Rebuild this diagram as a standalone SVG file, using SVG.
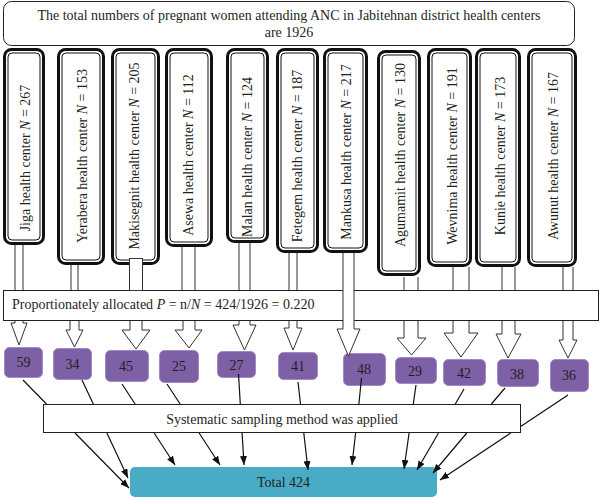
<svg xmlns="http://www.w3.org/2000/svg" width="600" height="498" viewBox="0 0 600 498">
<defs>
<style>
text{font-family:"Liberation Serif","Times New Roman",serif;font-size:14px;fill:#231f20}
.box{fill:#fff;stroke:#231f20;stroke-width:1}
.outer{fill:#fff;stroke:#111;stroke-width:3}
.inner{fill:none;stroke:#111;stroke-width:1}
.vt{text-anchor:middle}
.num{fill:#7e60a6;stroke:#a08bc6;stroke-width:1}
.stem{fill:none;stroke:#333;stroke-width:1}
.head{fill:#fff;stroke:#333;stroke-width:1}
.ln{fill:none;stroke:#111;stroke-width:1.2;marker-end:url(#ah)}
</style>
<marker id="ah" markerUnits="userSpaceOnUse" markerWidth="9" markerHeight="7" refX="9" refY="3.5" orient="auto">
<path d="M0,0 L9,3.5 L0,7 z" fill="#111"/>
</marker>
</defs>
<rect width="600" height="498" fill="#fff"/>

<g id="title">
<rect class="box" x="3.5" y="1.5" width="571" height="44" rx="8"/>
<text x="289" y="20" text-anchor="middle">The total numbers of pregnant women attending ANC in Jabitehnan district health centers</text>
<text x="289" y="37" text-anchor="middle">are 1926</text>
</g>

<g id="hc-jiga">
<rect class="outer" x="4.5" y="49.5" width="39" height="194" rx="7"/>
<rect class="inner" x="8" y="53" width="32" height="187" rx="4"/>
<text class="vt" transform="translate(25,158) rotate(-90)" dy="0.35em">Jiga health center <tspan font-style="italic">N</tspan> = 267</text>
</g>
<g id="hc-yerabera">
<rect class="outer" x="58.5" y="49.5" width="45" height="214" rx="7"/>
<rect class="inner" x="62" y="53" width="38" height="207" rx="4"/>
<text class="vt" transform="translate(82,156) rotate(-90)" dy="0.35em">Yerabera health center <tspan font-style="italic">N</tspan> = 153</text>
</g>
<g id="hc-makisegnit">
<rect class="outer" x="112.5" y="49.5" width="46" height="214" rx="7"/>
<rect class="inner" x="116" y="53" width="39" height="207" rx="4"/>
<text class="vt" transform="translate(134,156) rotate(-90)" dy="0.35em">Makisegnit health center <tspan font-style="italic">N</tspan> = 205</text>
</g>
<g id="hc-asewa">
<rect class="outer" x="166.5" y="49.5" width="45" height="196" rx="7"/>
<rect class="inner" x="170" y="53" width="38" height="189" rx="4"/>
<text class="vt" transform="translate(188,155) rotate(-90)" dy="0.35em">Asewa health center <tspan font-style="italic">N</tspan> = 112</text>
</g>
<g id="hc-malan">
<rect class="outer" x="227.5" y="49.5" width="40" height="192" rx="7"/>
<rect class="inner" x="231" y="53" width="33" height="185" rx="4"/>
<text class="vt" transform="translate(247,157) rotate(-90)" dy="0.35em">Malan health center <tspan font-style="italic">N</tspan> = 124</text>
</g>
<g id="hc-fetegem">
<rect class="outer" x="277.5" y="49.5" width="40" height="202" rx="7"/>
<rect class="inner" x="281" y="53" width="33" height="195" rx="4"/>
<text class="vt" transform="translate(297,156) rotate(-90)" dy="0.35em">Fetegem health center <tspan font-style="italic">N</tspan> = 187</text>
</g>
<g id="hc-mankusa">
<rect class="outer" x="324.5" y="49.5" width="42" height="202" rx="7"/>
<rect class="inner" x="328" y="53" width="35" height="195" rx="4"/>
<text class="vt" transform="translate(346,152) rotate(-90)" dy="0.35em">Mankusa health center <tspan font-style="italic">N</tspan> = 217</text>
</g>
<g id="hc-agumamit">
<rect class="outer" x="378.5" y="51.5" width="41" height="223" rx="7"/>
<rect class="inner" x="382" y="55" width="34" height="216" rx="4"/>
<text class="vt" transform="translate(400,155) rotate(-90)" dy="0.35em">Agumamit health center <tspan font-style="italic">N</tspan> = 130</text>
</g>
<g id="hc-wevnima">
<rect class="outer" x="428.5" y="49.5" width="42" height="216" rx="7"/>
<rect class="inner" x="432" y="53" width="35" height="209" rx="4"/>
<text class="vt" transform="translate(452,156) rotate(-90)" dy="0.35em">Wevnima health center <tspan font-style="italic">N</tspan> = 191</text>
</g>
<g id="hc-kunie">
<rect class="outer" x="476.5" y="49.5" width="43" height="216" rx="7"/>
<rect class="inner" x="480" y="53" width="36" height="209" rx="4"/>
<text class="vt" transform="translate(500,156) rotate(-90)" dy="0.35em">Kunie health center <tspan font-style="italic">N</tspan> = 173</text>
</g>
<g id="hc-awunut">
<rect class="outer" x="528.5" y="49.5" width="47" height="216" rx="7"/>
<rect class="inner" x="532" y="53" width="40" height="209" rx="4"/>
<text class="vt" transform="translate(553,156) rotate(-90)" dy="0.35em">Awunut health center <tspan font-style="italic">N</tspan> = 167</text>
</g>

<g id="allocation">
<rect class="box" x="3.5" y="290.5" width="595" height="30"/>
<text x="12" y="308.5">Proportionately allocated <tspan font-style="italic">P</tspan> = n/<tspan font-style="italic">N</tspan> = 424/1926 = 0.220</text>
</g>

<g id="n59"><rect class="num" x="4.5" y="347.5" width="38" height="30" rx="5"/><text x="23.5" y="367" text-anchor="middle">59</text></g>
<g id="n34"><rect class="num" x="53.5" y="348.5" width="38" height="31" rx="5"/><text x="72.5" y="369" text-anchor="middle">34</text></g>
<g id="n45"><rect class="num" x="105.5" y="350.5" width="43" height="31" rx="5"/><text x="126" y="371" text-anchor="middle">45</text></g>
<g id="n25"><rect class="num" x="159.5" y="350.5" width="39" height="32" rx="5"/><text x="179" y="371" text-anchor="middle">25</text></g>
<g id="n27"><rect class="num" x="217.5" y="351.5" width="38" height="26" rx="5"/><text x="236.5" y="370" text-anchor="middle">27</text></g>
<g id="n41"><rect class="num" x="278.5" y="352.5" width="39" height="27" rx="5"/><text x="298" y="371" text-anchor="middle">41</text></g>
<g id="n48"><rect class="num" x="343.5" y="353.5" width="42" height="32" rx="5"/><text x="364" y="373.5" text-anchor="middle">48</text></g>
<g id="n29"><rect class="num" x="395.5" y="357.5" width="41" height="26" rx="5"/><text x="415" y="376" text-anchor="middle">29</text></g>
<g id="n42"><rect class="num" x="443.5" y="359.5" width="42" height="26" rx="5"/><text x="464" y="378" text-anchor="middle">42</text></g>
<g id="n38"><rect class="num" x="497.5" y="359.5" width="41" height="27" rx="5"/><text x="517" y="379" text-anchor="middle">38</text></g>
<g id="n36"><rect class="num" x="550.5" y="359.5" width="38" height="32" rx="5"/><text x="569" y="380" text-anchor="middle">36</text></g>

<g id="systematic">
<rect class="box" x="43.5" y="404.5" width="477" height="28"/>
<text x="282" y="423.5" text-anchor="middle">Systematic sampling method was applied</text>
</g>

<g id="total">
<rect x="130" y="467" width="307" height="30" rx="5" fill="#4aabc6"/>
<text x="283.5" y="487" text-anchor="middle">Total 424</text>
</g>

<g id="connectors">
<path class="stem" d="M15,245 V290 M23,245 V290"/>
<path class="head" d="M15,321 V323 H11 L19,345 L27,323 H23 V321"/>
<path class="stem" d="M71,265 V290 M78,265 V290"/>
<path class="head" d="M70,321 V330 H66 L74.5,347 L83,330 H79 V321"/>
<rect class="head" x="129.5" y="258.5" width="13" height="32"/>
<path class="head" d="M130,321 V330 H122 L136,349 L150,330 H142 V321"/>
<path class="stem" d="M182,247 V290 M195,247 V290"/>
<path class="head" d="M183,321 V330 H175 L189,348 L202,330 H195 V321"/>
<path class="stem" d="M239,243 V290 M250,243 V290"/>
<path class="head" d="M239,321 V325 H233 L244.5,350 L256,325 H250 V321"/>
<path class="stem" d="M289,253 V290 M297,253 V290"/>
<path class="head" d="M289,321 V328 H284 L293,350 L302,328 H297 V321"/>
<path class="head" d="M343,253 V329 H337 L348.5,356 L360,329 H354 V253"/>
<path class="stem" d="M404,277 V290 M418,277 V290"/>
<path class="head" d="M404,321 V338 H397 L411.5,355 L426,338 H418 V321"/>
<path class="stem" d="M453,267 V290 M469,267 V290"/>
<path class="head" d="M453,321 V333 H444 L461,357 L478,333 H469 V321"/>
<path class="stem" d="M502,267 V290 M515,267 V290"/>
<path class="head" d="M502,321 V334 H496 L508,358 L521,334 H515 V321"/>
<path class="stem" d="M563,267 V290 M573,267 V290"/>
<path class="head" d="M563,321 V340 H559 L568,358 L577,340 H573 V321"/>

<path class="ln" d="M23,380 L46.5,404 M75,433 L129,488"/>
<path class="ln" d="M82,380 L93.3,404 M106.9,433 L128,478"/>
<path class="ln" d="M122,384 L135.1,404 M154.1,433 L175,465"/>
<path class="ln" d="M167,384 L180.1,404 M199.1,433 L220,465"/>
<path class="ln" d="M238.5,374 L240.3,404 M242.1,433 L244,465"/>
<path class="ln" d="M298,382 L300.5,404 M303.8,433 L308,470"/>
<path class="ln" d="M361.5,378 L358.9,404 M355.6,433 L352,465"/>
<path class="ln" d="M416,385 L413.3,404 M409.1,433 L404,469"/>
<path class="ln" d="M464,389 L455.3,404 M438.5,433 L417,470"/>
<path class="ln" d="M505,388 L491.4,404 M466.8,433 L433,473"/>
<path class="ln" d="M568,395 L521,426.2 M510.8,433 L440,480"/>
</g>
</svg>
